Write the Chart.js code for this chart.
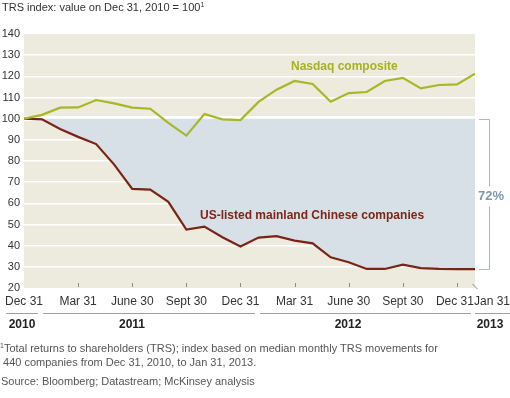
<!DOCTYPE html>
<html>
<head>
<meta charset="utf-8">
<script src="https://cdn.jsdelivr.net/npm/chart.js@4.4.1/dist/chart.umd.min.js"></script>
<style>
    body { margin: 0; background: #fff; font-family: "Liberation Sans", Arial, sans-serif; }
    #wrap { position: relative; width: 510px; height: 398px; overflow: hidden; }
    #chart { position: absolute; left: 0; top: 0; }
    .title { position: absolute; left: 2px; top: 1px; font-size: 11px; color: #333; }
    .title sup, .note sup { font-size: 7px; vertical-align: 4px; line-height: 0; }
    .note { position: absolute; left: 0; font-size: 11px; color: #555; line-height: 14px; }
</style>
</head>
<body>
<div id="wrap">
    <canvas id="chart" width="510" height="398"></canvas>
    <div class="title">TRS index: value on Dec 31, 2010 = 100<sup>1</sup></div>
    <div class="note" style="top:341px;"><sup>1</sup>Total returns to shareholders (TRS); index based on median monthly TRS movements for<br>&nbsp;440 companies from Dec 31, 2010, to Jan 31, 2013.</div>
    <div class="note" style="top:374px; left:1px;">Source: Bloomberg; Datastream; McKinsey analysis</div>
</div>
<script>
// month index 0 = Dec 31, 2010 ... 25 = Jan 31, 2013
const nasdaq = [100, 101.8, 105.2, 105.3, 108.8, 107.2, 105.2, 104.7, 98, 92, 102.2, 99.7, 99.3,
                107.9, 113.7, 117.8, 116.4, 108, 112.1, 112.6, 117.8, 119.3, 114.3, 115.9, 116.2, 121.2];
const chinese = [100, 99.7, 95.1, 91.4, 88, 78.3, 66.8, 66.5, 60.7, 47.6, 49, 44, 39.6,
                 43.8, 44.5, 42.4, 41.1, 34.5, 32.2, 29, 29, 31, 29.4, 29, 28.9, 28.9];
const tickMonths = [0, 3, 6, 9, 12, 15, 18, 21, 24, 25];
const tickLabels = ['Dec 31', 'Mar 31', 'June 30', 'Sept 30', 'Dec 31', 'Mar 31', 'June 30', 'Sept 30', 'Dec 31', 'Jan 31'];
const yearLabels = ['2010', '2011', '2012', '2013'];
const yTicks = [20, 30, 40, 50, 60, 70, 80, 90, 100, 110, 120, 130, 140];
const dropLabel = '72%';

const FONT = '"Liberation Sans", Arial, sans-serif';

const decorPlugin = {
    id: 'decor',
    beforeDraw(chart) {
        const { ctx, chartArea: a } = chart;
        ctx.save();
        ctx.fillStyle = '#edeade';
        ctx.fillRect(a.left, a.top, a.right - a.left, a.bottom - a.top);
        ctx.restore();
    },
    afterDraw(chart) {
        const { ctx, chartArea: a } = chart;
        const xs = chart.scales.x;
        const ys = chart.scales.y;
        ctx.save();

        // small tick marks at bottom of plot
        ctx.strokeStyle = '#8a8a8a';
        ctx.lineWidth = 1;
        tickMonths.forEach((m, i) => {
            if (m === 0) return;
            const px = Math.round(xs.getPixelForValue(m)) + 0.5;
            ctx.beginPath();
            if (i === tickMonths.length - 1) {
                ctx.moveTo(px - 3, a.bottom - 4);
                ctx.lineTo(px + 2, a.bottom + 1);
            } else {
                ctx.moveTo(px, a.bottom - 5);
                ctx.lineTo(px, a.bottom - 1);
            }
            ctx.stroke();
        });

        // x tick labels
        ctx.fillStyle = '#333';
        ctx.font = '12px ' + FONT;
        ctx.textAlign = 'center';
        ctx.textBaseline = 'middle';
        tickMonths.forEach((m, i) => {
            let px = xs.getPixelForValue(m);
            if (i === tickMonths.length - 1) px += 17;
            if (i === tickMonths.length - 2) px -= 2;
            ctx.fillText(tickLabels[i], px, 302);
        });

        // year rows
        ctx.strokeStyle = '#a0a0a0';
        [[6, 38], [43, 255], [260, 471], [475, 510]].forEach(s => {
            ctx.beginPath();
            ctx.moveTo(s[0], 313.5);
            ctx.lineTo(s[1], 313.5);
            ctx.stroke();
        });
        ctx.font = 'bold 12px ' + FONT;
        ctx.fillStyle = '#222';
        [22, 132, 348, 490].forEach((cx, i) => ctx.fillText(yearLabels[i], cx, 325));

        // series labels
        ctx.textAlign = 'left';
        ctx.font = 'bold 12px ' + FONT;
        ctx.fillStyle = '#a3b323';
        ctx.fillText('Nasdaq composite', 291, 67);
        ctx.fillStyle = '#7f2417';
        ctx.fillText('US-listed mainland Chinese companies', 200, 216);

        // bracket showing the drop
        const yTop = Math.round(ys.getPixelForValue(100)) + 0.5;
        const yBot = Math.round(ys.getPixelForValue(chinese[chinese.length - 1])) + 0.5;
        const bx = 489.5;
        const midY = (yTop + yBot) / 2;
        ctx.strokeStyle = '#aab6c0';
        ctx.beginPath();
        ctx.moveTo(479, yTop); ctx.lineTo(bx, yTop); ctx.lineTo(bx, midY - 8);
        ctx.moveTo(bx, midY + 12); ctx.lineTo(bx, yBot); ctx.lineTo(479, yBot);
        ctx.stroke();
        ctx.font = 'bold 13px ' + FONT;
        ctx.fillStyle = '#7d99b1';
        ctx.textAlign = 'center';
        ctx.fillText(dropLabel, 491, midY + 2);

        ctx.restore();
    }
};

new Chart(document.getElementById('chart'), {
    type: 'line',
    data: {
        datasets: [
            {
                label: 'Nasdaq composite',
                data: nasdaq.map((v, i) => ({ x: i, y: v })),
                borderColor: '#a7b726',
                borderWidth: 2.2,
                fill: false,
                pointRadius: 0,
                tension: 0
            },
            {
                label: 'US-listed mainland Chinese companies',
                data: chinese.map((v, i) => ({ x: i, y: v })),
                borderColor: '#7b2416',
                borderWidth: 2.2,
                backgroundColor: '#d6e0e6',
                fill: { value: 100 },
                pointRadius: 0,
                tension: 0
            }
        ]
    },
    options: {
        responsive: false,
        animation: false,
        layout: { padding: { left: 0, top: 34, right: 35, bottom: 110 } },
        plugins: { legend: { display: false }, tooltip: { enabled: false } },
        scales: {
            x: { type: 'linear', min: 0, max: 25, display: false },
            y: {
                min: 20,
                max: 140,
                afterFit: s => { s.width = 24; },
                afterBuildTicks: s => { s.ticks = yTicks.map(v => ({ value: v })); },
                border: { display: false },
                grid: {
                    drawTicks: false,
                    color: c => (c.tick.value === 20 || c.tick.value === 140) ? 'rgba(0,0,0,0)' : '#ffffff',
                    lineWidth: c => c.tick.value === 100 ? 5 : 1.5
                },
                ticks: {
                    padding: 4,
                    color: '#333',
                    font: { family: FONT, size: 11 }
                }
            }
        }
    },
    plugins: [decorPlugin]
});
</script>
</body>
</html>
